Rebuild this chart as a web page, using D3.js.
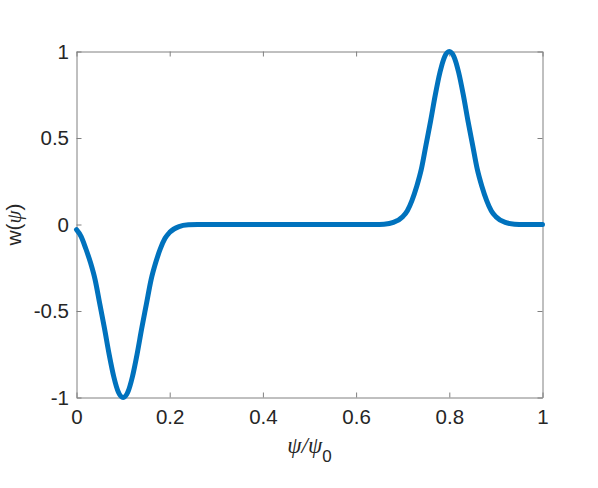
<!DOCTYPE html>
<html>
<head>
<meta charset="utf-8">
<script src="https://cdn.jsdelivr.net/npm/d3@7"></script>
<style>
  body { margin: 0; background: #fff; }
  .greek { font-family: "Liberation Serif", "DejaVu Serif", serif; font-style: italic; }
</style>
</head>
<body>
<svg width="598" height="488"></svg>
<script>
// values
const psi = [0, 0.01, 0.02, 0.03, 0.04, 0.05, 0.06, 0.07, 0.08, 0.09, 0.10,
  0.11, 0.12, 0.13, 0.14, 0.15, 0.16, 0.17, 0.18, 0.19, 0.20, 0.22, 0.24, 0.26,
  0.30, 0.40, 0.50, 0.60, 0.64, 0.66, 0.68, 0.70, 0.71, 0.72, 0.73, 0.74, 0.75,
  0.76, 0.77, 0.78, 0.79, 0.80, 0.81, 0.82, 0.83, 0.84, 0.85, 0.86, 0.87, 0.88,
  0.89, 0.90, 0.92, 0.94, 0.96, 1.00];
const w = [-0.03, -0.07, -0.14, -0.22, -0.32, -0.46, -0.60, -0.75, -0.88, -0.97, -1.00,
  -0.97, -0.88, -0.75, -0.60, -0.46, -0.32, -0.22, -0.14, -0.08, -0.045, -0.012, -0.002, 0,
  0, 0, 0, 0, 0, 0.002, 0.012, 0.045, 0.08, 0.14, 0.22, 0.32, 0.46,
  0.60, 0.75, 0.88, 0.97, 1.00, 0.97, 0.88, 0.75, 0.60, 0.46, 0.32, 0.22, 0.14,
  0.08, 0.045, 0.012, 0.002, 0, 0];
const xTicks = [0, 0.2, 0.4, 0.6, 0.8, 1];
const yTicks = [-1, -0.5, 0, 0.5, 1];

const data = psi.map((p, i) => ({psi: p, w: w[i]}));

const svg = d3.select('svg');
const margin = {top: 51.5, right: 55.5, bottom: 90.5, left: 76.5};
const width = +svg.attr('width');
const height = +svg.attr('height');
const innerWidth = width - margin.left - margin.right;
const innerHeight = height - margin.top - margin.bottom;

const g = svg.append('g').attr('transform', `translate(${margin.left}, ${margin.top})`);

const xScale = d3.scaleLinear().domain([0, 1]).range([0, innerWidth]);
const yScale = d3.scaleLinear().domain([-1, 1]).range([innerHeight, 0]);

const fmt = d => String(d);   // plain hyphen minus, like the original
const tickLen = 5;

const axisStyle = (sel, hideText) => {
  sel.attr('font-family', '"Liberation Sans", Arial, sans-serif').attr('font-size', 20.5);
  sel.selectAll('.domain').attr('stroke', '#808080').attr('stroke-width', 1);
  sel.selectAll('.tick line').attr('stroke', '#808080').attr('stroke-width', 1);
  sel.selectAll('.tick text').attr('fill', '#262626');
  if (hideText) sel.selectAll('.tick text').remove();
};

// bottom + top
g.append('g')
  .attr('transform', `translate(0, ${innerHeight})`)
  .call(d3.axisBottom(xScale).tickValues(xTicks).tickFormat(fmt).tickSizeInner(-tickLen).tickSizeOuter(0).tickPadding(12))
  .call(s => axisStyle(s, false));
g.append('g')
  .call(d3.axisTop(xScale).tickValues(xTicks).tickSizeInner(-tickLen).tickSizeOuter(0))
  .call(s => axisStyle(s, true));

// left + right
g.append('g')
  .call(d3.axisLeft(yScale).tickValues(yTicks).tickFormat(fmt).tickSizeInner(-tickLen).tickSizeOuter(0).tickPadding(7.5))
  .call(s => axisStyle(s, false));
g.append('g')
  .attr('transform', `translate(${innerWidth}, 0)`)
  .call(d3.axisRight(yScale).tickValues(yTicks).tickSizeInner(-tickLen).tickSizeOuter(0))
  .call(s => axisStyle(s, true));

// curve
const lineGenerator = d3.line()
  .x(d => xScale(d.psi))
  .y(d => yScale(d.w))
  .curve(d3.curveMonotoneX);

g.append('path')
  .attr('d', lineGenerator(data))
  .attr('fill', 'none')
  .attr('stroke', '#0072BD')
  .attr('stroke-width', 5)
  .attr('stroke-linejoin', 'round')
  .attr('stroke-linecap', 'round');

// x label: psi/psi_0
const xl = svg.append('text')
  .attr('x', margin.left + innerWidth / 2)
  .attr('y', 453)
  .attr('text-anchor', 'middle')
  .attr('fill', '#262626')
  .attr('font-family', '"Liberation Sans", Arial, sans-serif');
xl.append('tspan').attr('class', 'greek').attr('font-size', 23).text('ψ/ψ');
xl.append('tspan').attr('font-size', 17).attr('dy', 9).text('0');

// y label: w(psi)
const yl = svg.append('text')
  .attr('transform', `translate(21, ${margin.top + innerHeight / 2}) rotate(-90)`)
  .attr('text-anchor', 'middle')
  .attr('fill', '#262626')
  .attr('font-family', '"Liberation Sans", Arial, sans-serif')
  .attr('font-size', 21);
yl.append('tspan').text('w(');
yl.append('tspan').attr('class', 'greek').text('ψ');
yl.append('tspan').text(')');
</script>
</body>
</html>
